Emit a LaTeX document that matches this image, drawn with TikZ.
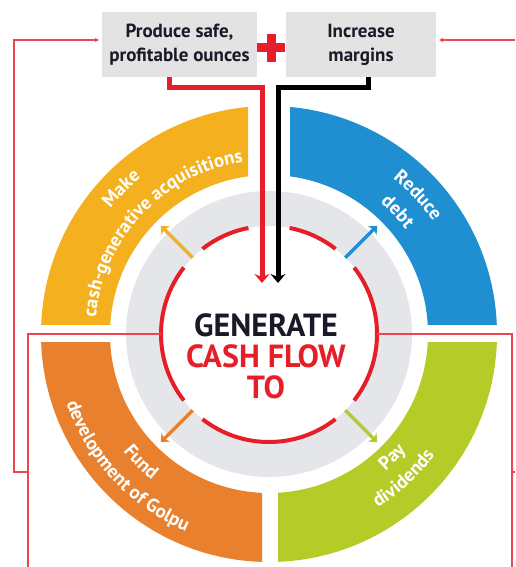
\documentclass[tikz,border=0pt]{standalone}
\usepackage{fontspec}
\setmainfont{PT Sans}
\usetikzlibrary{arrows.meta,positioning,calc,decorations.text}

\definecolor{ylw}{RGB}{244,176,31}
\definecolor{blu}{RGB}{31,143,210}
\definecolor{org}{RGB}{232,128,45}
\definecolor{grn}{RGB}{180,203,40}
\definecolor{mainred}{RGB}{230,30,40}
\definecolor{feedred}{RGB}{236,70,80}
\definecolor{ringgray}{RGB}{229,230,233}
\definecolor{boxgray}{RGB}{227,227,227}
\definecolor{ink}{RGB}{25,25,40}

\newcommand\pathfont{\fontsize{19}{19}\bfseries\selectfont}

\begin{document}
\begin{tikzpicture}[
        x=1pt, y=1pt,
        box/.style={fill=boxgray, minimum width=155pt, minimum height=65pt,
            align=center, text=ink, font=\fontsize{19}{24}\bfseries\selectfont},
        flow/.style={line width=5pt, -{Stealth[length=9pt,width=15pt,inset=3pt]}},
        feed/.style={feedred, line width=1.2pt},
        feedarrow/.style={feed, -{Stealth[length=4pt,width=4.5pt]}, shorten >=3pt},
        ring/.style={mainred, line width=4pt},
        spoke/.style={line width=3.5pt, -{Stealth[length=7pt,width=12pt,inset=2pt]}},
        ptext/.style={decorate, decoration={text along path, text align=center,
            text color=white, text={|\pathfont|#1}}},
    ]
    \useasboundingbox (-269,-233) rectangle (246,334);
    % sectors
    \foreach \col/\xa/\ya/\xb/\yb in {ylw/-240/9/-21/240, blu/21/9/240/240,
                                      org/-240/-9/-7/-240, grn/9/-9/240/-240}{
        \begin{scope}
            \clip (\xa,\ya) rectangle (\xb,\yb);
            \fill[\col, even odd rule] (0,0) circle[radius=228] circle[radius=159];
        \end{scope}
    }
    \fill[ringgray, even odd rule] (0,0) circle[radius=143] circle[radius=108];
    % sector texts (arcs centred on each word)
    \path[ptext={Make}] (175.5:202) arc[start angle=175.5, end angle=95.5, radius=202];
    \path[ptext={cash-generative acquisitions}] (179:174) arc[start angle=179, end angle=94, radius=174];
    \path[ptext={Reduce}] (83:199) arc[start angle=83, end angle=3, radius=199];
    \path[ptext={debt}] (83.5:172) arc[start angle=83.5, end angle=3.5, radius=172];
    \path[ptext={Fund}] (185:187) arc[start angle=185, end angle=265, radius=187];
    \path[ptext={development of Golpu}] (183:214) arc[start angle=183, end angle=263, radius=214];
    \path[ptext={Pay}] (275:180) arc[start angle=275, end angle=355, radius=180];
    \path[ptext={dividends}] (273:205) arc[start angle=273, end angle=353, radius=205];

    % hub
    \node[circle, minimum size=216pt, inner sep=0pt, outer sep=0pt] (hub) at (0,0) {};
    \foreach \a/\b in {101/128, 142/218, 232/308, 322/398, 412/439}
        \draw[ring] (\a:108) arc[start angle=\a, end angle=\b, radius=108];
    \node[align=center, text=ink, font=\fontsize{32}{31}\bfseries\selectfont]
        (generate) at (-3,-22) {GENERATE\\\textcolor{mainred}{CASH FLOW}\\\textcolor{mainred}{TO}};
    \foreach \ang/\col in {45/blu, 135/ylw, 225/org, 315/grn}
        \draw[spoke, \col] (hub.\ang) -- (\ang:153);

    % boxes
    \node[box] (produce) at (-89.5,289.5) {Produce safe,\\profitable ounces};
    \node[box, minimum width=150pt] (margins) at (92,289.5) {Increase\\margins};
    \coordinate (plus) at (2,286);
    \draw[mainred, line width=9pt] ($(plus)+(-14,0)$) -- ($(plus)+(14,0)$);
    \draw[mainred, line width=9pt] ($(plus)+(0,-14)$) -- ($(plus)+(0,14)$);

    % flows into hub
    \coordinate (redtip) at (-7,51);
    \coordinate (blacktip) at (9,51);
    \draw[flow, mainred] ([xshift=-9.5pt]produce.south) -- ++(0,-10) -| (redtip);
    \draw[flow, black] ([xshift=7pt]margins.south) -- ++(0,-10) -| (blacktip);

    % feedback lines
    \coordinate (loopL) at (-241,-233);
    \coordinate (loopR) at (243,-233);
    \coordinate (branchL) at (-241,-138);
    \coordinate (edgeR) at (246,294);
    \draw[feed] (hub.west) -| (loopL);
    \draw[feed] (hub.east) -| (loopR);
    \draw[feed] (243,-138) -- (246,-138);
    \draw[feedarrow] (branchL) -- ++(-14,0) |- ([yshift=4.5pt]produce.west);
    \draw[feedarrow] (edgeR) -- ([yshift=4.5pt]margins.east);
\end{tikzpicture}
\end{document}
